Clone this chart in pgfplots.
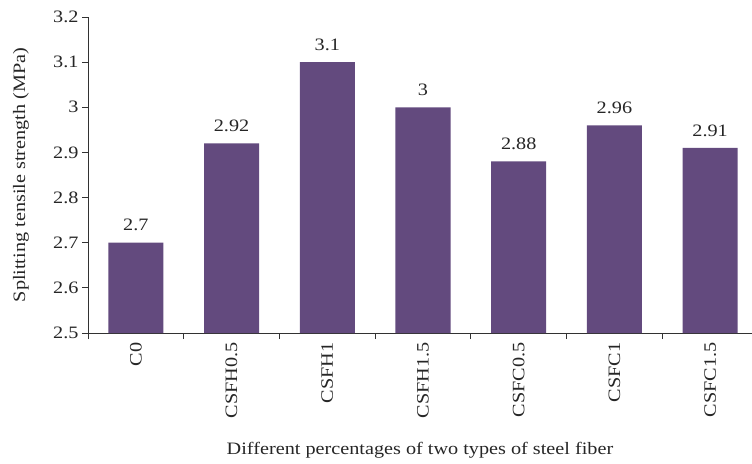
\documentclass[border=0pt]{standalone}
\usepackage{fontspec}
\setmainfont{Liberation Serif}[FakeStretch=1.16]
\usepackage{pgfplots}
\pgfplotsset{compat=1.18}
\definecolor{barpurple}{RGB}{99,74,126}
\definecolor{axisgray}{RGB}{50,50,50}
\newcommand{\chartfont}{\fontsize{17.5}{21}\selectfont}
\begin{document}
\begin{tikzpicture}
    \begin{axis}[
        ybar,
        scale only axis,
        width=670bp, height=316bp,
        bar width=0.575,
        xmin=-0.5, xmax=6.5,
        ymin=2.5, ymax=3.2,
        ytick={2.5,2.6,...,3.2},
        axis x line*=bottom,
        axis y line*=left,
        axis line style={axisgray, line width=0.9pt},
        tick style={axisgray, line width=0.9pt},
        tick align=outside,
        major tick length=6bp,
        xtick={0,...,6},
        x tick style={draw=none},
        minor xtick={-0.5,0.5,...,6.5},
        minor x tick style={draw=axisgray, line width=0.9pt},
        minor tick length=6bp,
        xticklabels={C0,CSFH0.5,CSFH1,CSFH1.5,CSFC0.5,CSFC1,CSFC1.5},
        x tick label style={rotate=90, anchor=east, font=\chartfont, text=black!85},
        y tick label style={font=\chartfont, text=black!85},
        /pgf/number format/assume math mode=true,
        yticklabel style={/pgf/number format/fixed},
        ylabel={Splitting tensile strength (MPa)},
        xlabel={Different percentages of two types of steel fiber},
        every axis y label/.style={at={(axis description cs:0,0.5)}, rotate=90, anchor=center, yshift=67bp, font=\chartfont, text=black!85},
        every axis x label/.style={at={(axis description cs:0.5,0)}, anchor=base, yshift=-121bp, xshift=-3bp, font=\chartfont, text=black!85},
        nodes near coords,
        nodes near coords style={font=\chartfont, text=black!85, yshift=8bp},
        every node near coord/.append style={/pgf/number format/assume math mode=true},
        clip=false,
    ]
        \addplot[draw=none, fill=barpurple] coordinates {
            (0,2.7) (1,2.92) (2,3.1) (3,3.0) (4,2.88) (5,2.96) (6,2.91)
        };
        \coordinate (sw) at (rel axis cs:0,0);
    \end{axis}
    \pgfresetboundingbox
    \path ([shift={(-88bp,-131bp)}]sw) rectangle ([shift={(664bp,333bp)}]sw);
\end{tikzpicture}
\end{document}
